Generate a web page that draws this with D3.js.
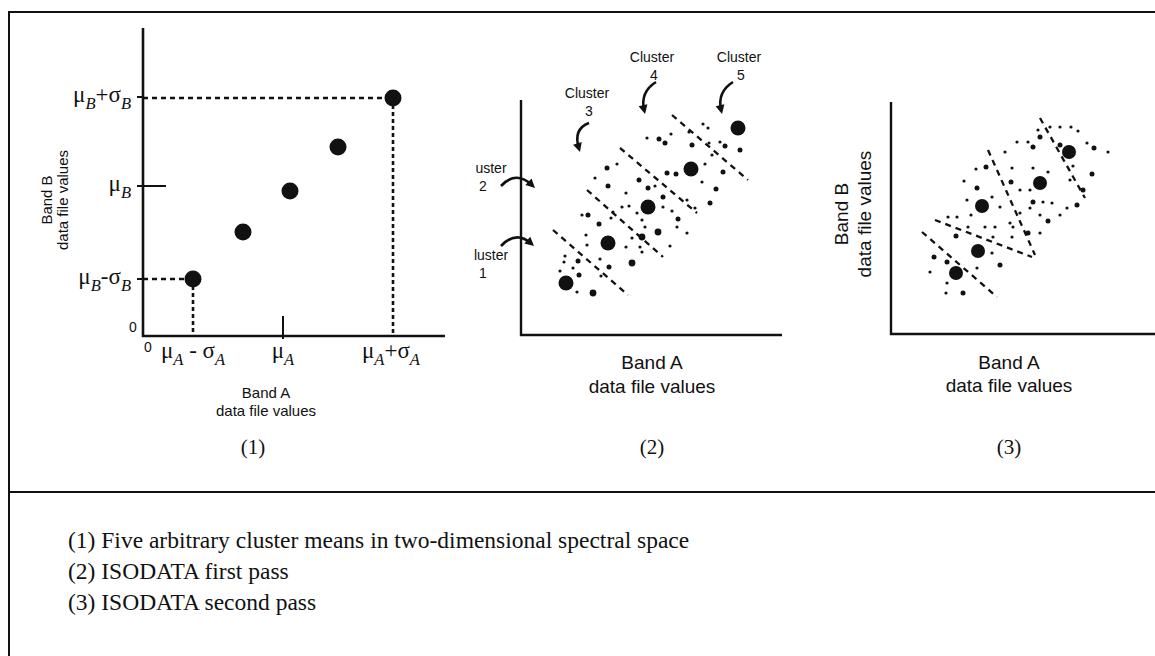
<!DOCTYPE html>
<html><head><meta charset="utf-8">
<script src="https://cdn.jsdelivr.net/npm/d3@7"></script>
<style>body{margin:0;background:#fff}svg{display:block}</style>
</head><body>
<svg id="c" width="1155" height="656"></svg>
<script>
// ---------- DATA (data file values, 0-255 style units) ----------
// Panel 1: five arbitrary cluster means
const p1MeansA = [50, 100, 147, 195, 250];
const p1MeansB = [57, 104, 145, 189, 238];
const p1TicksA = [50, 140, 248];          // muA-sigA, muA, muA+sigA
const p1TicksB = [57, 150, 239];          // muB-sigB, muB, muB+sigB
const p1TickLabelsA = [
  [["μ","n"],["A","s"],[" - ","n"],["σ","n"],["A","s"]],
  [["μ","n"],["A","s"]],
  [["μ","n"],["A","s"],["+","n"],["σ","n"],["A","s"]]
];
const p1TickLabelsB = [
  [["μ","n"],["B","s"],["-","n"],["σ","n"],["B","s"]],
  [["μ","n"],["B","s"]],
  [["μ","n"],["B","s"],["+","n"],["σ","n"],["B","s"]]
];

// Panel 2: ISODATA first pass
const p2CentersA = [45, 87, 127, 170, 217];
const p2CentersB = [52, 92, 128, 166, 207];
const p2Dots = [
  [44,79,1],[43,73,1],[57,74,2],[58,60,2],[52,67,1],[56,43,1],[72,42,3],[66,90,1],[65,100,1],
  [61,120,1],[67,120,2],[78,111,2],[90,117,1],[92,123,1],[101,128,1],[87,149,2],[74,157,1],
  [86,167,2],[96,171,1],[108,129,1],[116,122,1],[121,115,1],[124,108,1],[121,98,3],[111,97,1],
  [105,88,1],[119,88,1],[111,72,3],[88,68,2],[79,76,1],[80,59,1],[105,142,1],[118,155,2],
  [127,147,2],[134,149,1],[142,138,2],[142,128,1],[151,124,1],[157,116,2],[156,108,1],[137,103,3],
  [149,89,1],[166,102,1],[166,135,1],[174,127,1],[189,132,2],[195,146,2],[202,163,2],[181,153,1],
  [184,171,1],[155,161,2],[146,162,2],[144,192,2],[150,201,1],[171,190,2],[168,203,1],[182,211,1],
  [187,207,1],[188,192,1],[191,180,1],[204,189,2],[219,185,2],[199,193,1],[126,197,1],[138,196,2],
  [39,64,1],[121,83,1]
];
const p2Bounds = [[32,105,107,40],[66,145,142,78],[99,187,176,122],[151,220,227,155]];
const p2Labels = [
  {lines:["Cluster","3"], a:66, b:242},
  {lines:["Cluster","4"], a:131, b:278},
  {lines:["Cluster","5"], a:218, b:278},
  {lines:["uster","2"], a:-30, b:167},
  {lines:["luster","1"], a:-30, b:80}
];
const p2Arrows = [
  [68,212,52,206,59,183],
  [135,253,119,243,124,221],
  [212,253,196,243,201,221],
  [-20,149,-5,165,14,147],
  [-20,89,-5,105,13,89]
];

// Panel 3: ISODATA second pass
const p3CentersA = [65, 87, 91, 149, 178];
const p3CentersB = [61, 83, 128, 151, 182];
const p3Dots = [
  [39,62,1],[43,77,2],[56,72,2],[55,41,1],[72,41,2],[56,51,1],[65,98,2],[57,117,1],[66,117,1],
  [77,107,1],[86,66,1],[109,69,2],[101,81,1],[104,107,1],[94,107,1],[80,119,1],[76,134,1],
  [86,146,2],[73,153,1],[85,165,1],[95,167,2],[101,137,1],[109,127,1],[121,166,1],[114,182,1],
  [126,192,1],[137,192,1],[142,187,2],[149,197,2],[147,204,1],[159,207,1],[169,207,1],[180,207,1],
  [187,203,1],[196,191,1],[203,186,2],[217,182,1],[201,160,2],[192,144,2],[186,129,2],[176,126,1],
  [169,119,1],[157,113,2],[149,119,1],[149,101,1],[137,101,2],[129,121,1],[122,107,1],[121,97,1],
  [119,111,1],[129,144,1],[139,144,1],[142,132,2],[152,132,1],[161,131,1],[139,126,1],[120,152,2],
  [157,162,1],[142,166,1],[169,189,2],[182,168,1],[179,154,1],[102,97,1]
];
const p3Bounds = [[31,102,106,37],[44,114,141,77],[97,184,144,79],[149,216,194,136]];

const captions = [
  "(1) Five arbitrary cluster means in two-dimensional spectral space",
  "(2) ISODATA first pass",
  "(3) ISODATA second pass"
];
const panelTags = ["(1)", "(2)", "(3)"];

// ---------- DRAWING ----------
const ink = "#111";
const SANS = "'Liberation Sans', Arial, Helvetica, sans-serif";
const SERIF = "'Liberation Serif', 'Times New Roman', serif";
const svg = d3.select("#c");
svg.append("rect").attr("width",1155).attr("height",656).attr("fill","#fff");

// frame
svg.append("path").attr("d","M9,660 V12 H1160").attr("fill","none").attr("stroke",ink).attr("stroke-width",2);
svg.append("line").attr("x1",9).attr("x2",1160).attr("y1",492).attr("y2",492).attr("stroke",ink).attr("stroke-width",2);

function mathText(g, x, y, parts, anchor, size) {
  const t = g.append("text").attr("x",x).attr("y",y).attr("text-anchor",anchor)
    .attr("font-family",SERIF).attr("font-size",size).attr("fill",ink);
  let down = false;
  const sh = size*0.3;
  parts.forEach(([s,k]) => {
    const ts = t.append("tspan").text(s);
    if (k === "s") {
      ts.attr("font-style","italic").attr("font-size",size*0.72);
      if (!down) { ts.attr("dy",sh); down = true; }
    } else if (down) { ts.attr("dy",-sh); down = false; }
  });
}
function sansText(g, x, y, s, size, anchor, rot) {
  const t = g.append("text").attr("font-family",SANS).attr("font-size",size)
    .attr("fill",ink).attr("text-anchor",anchor||"middle").text(s);
  if (rot) t.attr("transform",`translate(${x},${y}) rotate(-90)`);
  else t.attr("x",x).attr("y",y);
  return t;
}

// ===== Panel 1 =====
{
  const g = svg.append("g");
  const x = d3.scaleLinear().domain([0,300]).range([143,443]);
  const y = d3.scaleLinear().domain([0,300]).range([336,36]);
  g.append("path").attr("d",`M${x(0)},${y(308)} V${y(0)} H${x(302)}`)
    .attr("fill","none").attr("stroke",ink).attr("stroke-width",2.6);
  p1TicksB.forEach((v,i)=>{
    g.append("line").attr("x1",x(0)-6).attr("x2", i===1 ? x(23) : x(0))
      .attr("y1",y(v)).attr("y2",y(v)).attr("stroke",ink).attr("stroke-width",2);
  });
  g.append("line").attr("x1",x(p1TicksA[1])).attr("x2",x(p1TicksA[1]))
    .attr("y1",y(20)).attr("y2",y(0)+3).attr("stroke",ink).attr("stroke-width",2);
  const lo = 0, hi = p1MeansA.length-1;
  [lo,hi].forEach(i=>{
    g.append("line").attr("x1",x(0)).attr("x2",x(p1MeansA[i])).attr("y1",y(p1MeansB[i])).attr("y2",y(p1MeansB[i]))
      .attr("stroke",ink).attr("stroke-width",2.6).attr("stroke-dasharray","5,4");
    g.append("line").attr("x1",x(p1MeansA[i])).attr("x2",x(p1MeansA[i])).attr("y1",y(p1MeansB[i])).attr("y2",y(0))
      .attr("stroke",ink).attr("stroke-width",2.6).attr("stroke-dasharray","4,3");
  });
  g.selectAll("circle.m").data(p1MeansA).join("circle")
    .attr("cx",d=>x(d)).attr("cy",(d,i)=>y(p1MeansB[i])).attr("r",8.5).attr("fill",ink);
  p1TickLabelsB.forEach((parts,i)=> mathText(g, 131, y(p1TicksB[i])+5, parts, "end", 23));
  p1TickLabelsA.forEach((parts,i)=> mathText(g, x(p1TicksA[i]), 358, parts, "middle", 23));
  sansText(g, 133, 332, "0", 14);
  sansText(g, 148, 352, "0", 14);
  sansText(g, 266, 398, "Band A", 15);
  sansText(g, 266, 416, "data file values", 15);
  sansText(g, 52, 200, "Band B", 15, "middle", true);
  sansText(g, 68, 200, "data file values", 15, "middle", true);
  g.append("text").attr("x",253).attr("y",454).attr("text-anchor","middle")
    .attr("font-family",SERIF).attr("font-size",21).attr("fill",ink).text(panelTags[0]);
}

function scatterPanel(ox, oy, xEnd, yEnd, centersA, centersB, dots, bounds, bigR) {
  const g = svg.append("g");
  const x = d3.scaleLinear().domain([0,255]).range([ox, ox+255]);
  const y = d3.scaleLinear().domain([0,255]).range([oy, oy-255]);
  g.append("path").attr("d",`M${x(0)},${y(yEnd)} V${y(0)} H${x(xEnd)}`)
    .attr("fill","none").attr("stroke",ink).attr("stroke-width",2.4);
  bounds.forEach(b=>{
    g.append("line").attr("x1",x(b[0])).attr("y1",y(b[1])).attr("x2",x(b[2])).attr("y2",y(b[3]))
      .attr("stroke",ink).attr("stroke-width",2.3).attr("stroke-dasharray","6,5");
  });
  const rr = [0,1.6,2.5,3.4];
  g.selectAll("circle.d").data(dots).join("circle")
    .attr("cx",d=>x(d[0])).attr("cy",d=>y(d[1])).attr("r",d=>rr[d[2]]).attr("fill",ink);
  g.selectAll("circle.c").data(centersA).join("circle")
    .attr("cx",d=>x(d)).attr("cy",(d,i)=>y(centersB[i])).attr("r",bigR).attr("fill",ink);
  return {g,x,y};
}

// ===== Panel 2 =====
{
  const {g,x,y} = scatterPanel(521, 335, 261, 235, p2CentersA, p2CentersB, p2Dots, p2Bounds, 7.5);
  p2Labels.forEach(l=>{
    sansText(g, x(l.a), y(l.b)+5, l.lines[0], 14);
    sansText(g, x(l.a)+(l.lines[0].length<7?-8:2), y(l.b)+23, l.lines[1], 14);
  });
  p2Arrows.forEach(a=>{
    const [x0,y0,cx,cy,x1,y1] = [x(a[0]),y(a[1]),x(a[2]),y(a[3]),x(a[4]),y(a[5])];
    const ang = Math.atan2(y1-cy, x1-cx);
    const bx = x1 - 4*Math.cos(ang), by = y1 - 4*Math.sin(ang);
    g.append("path").attr("d",`M${x0},${y0} Q${cx},${cy} ${bx},${by}`)
      .attr("fill","none").attr("stroke",ink).attr("stroke-width",2.6);
    const L = 9, W = 4.5;
    const px = x1 - L*Math.cos(ang), py = y1 - L*Math.sin(ang);
    const nx = -Math.sin(ang), ny = Math.cos(ang);
    g.append("path").attr("d",`M${x1},${y1} L${px+W*nx},${py+W*ny} L${px-W*nx},${py-W*ny} Z`).attr("fill",ink);
  });
  sansText(g, 652, 369, "Band A", 19);
  sansText(g, 652, 393, "data file values", 19);
  g.append("text").attr("x",652).attr("y",454).attr("text-anchor","middle")
    .attr("font-family",SERIF).attr("font-size",21).attr("fill",ink).text(panelTags[1]);
}

// ===== Panel 3 =====
{
  const {g} = scatterPanel(891, 334, 266, 232, p3CentersA, p3CentersB, p3Dots, p3Bounds, 7);
  sansText(g, 848, 214, "Band B", 19, "middle", true);
  sansText(g, 871, 214, "data file values", 19, "middle", true);
  sansText(g, 1009, 369, "Band A", 19);
  sansText(g, 1009, 392, "data file values", 19);
  g.append("text").attr("x",1009).attr("y",454).attr("text-anchor","middle")
    .attr("font-family",SERIF).attr("font-size",21).attr("fill",ink).text(panelTags[2]);
}

// ===== Captions =====
svg.append("g").selectAll("text").data(captions).join("text")
  .attr("x",68).attr("y",(d,i)=>548+i*31)
  .attr("font-family",SERIF).attr("font-size",23.5).attr("fill",ink).text(d=>d);
</script>
</body></html>
